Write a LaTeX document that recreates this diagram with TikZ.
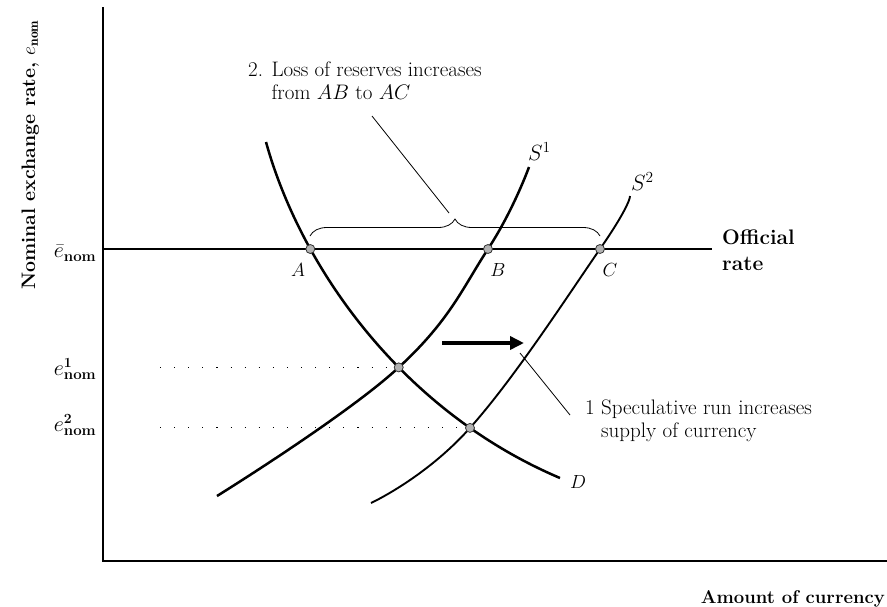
\RequirePackage{fix-cm}
\documentclass[tikz,border=0pt]{standalone}
\usepackage{fontspec}
\usetikzlibrary{arrows.meta,decorations.pathreplacing,intersections}
\newcommand{\enomlab}[2]{{\fontsize{22}{22}\selectfont$#1$}\rlap{\raisebox{8pt}{\fontsize{14}{14}\selectfont\bfseries #2}}\raisebox{-4pt}{\fontsize{15}{15}\selectfont\bfseries nom}}
\begin{document}
\begin{tikzpicture}[x=1pt,y=-1pt,
  curve/.style={line width=2.5pt},
  axis/.style={line width=1.4pt},
  leader/.style={line width=0.8pt},
  ptmark/.style={circle,draw=black!80,fill=black!30,line width=0.8pt,minimum size=9pt,inner sep=0pt},
  lbl/.style={font=\fontsize{21}{23}\selectfont,inner sep=0pt},
  mlbl/.style={font=\fontsize{19}{19}\selectfont,inner sep=0pt},
  slbl/.style={font=\fontsize{22}{22}\selectfont,inner sep=0pt},
  dots/.style={line width=1.1pt,dash pattern=on 1.1pt off 13pt}]
\useasboundingbox (0,0) rectangle (887,606);
% axes
\coordinate (origin) at (103,561);
\coordinate (ytop) at (103,7);
\coordinate (xend) at (887,561);
\draw[axis] (ytop) -- (origin) -- (xend);
% official rate
\coordinate (rateL) at (103,249);
\coordinate (rateR) at (712,249);
\draw[curve,line width=2pt,name path=rate] (rateL) -- (rateR);
% curves
\coordinate (Dtop) at (266,142);
\coordinate (Dend) at (560,478);
\draw[curve,name path=D] (Dtop) .. controls (300,265) and (400,410) .. (Dend);
\draw[curve,name path=S1] plot[smooth,tension=0.7] coordinates {(217,496) (397,369) (488,249) (529,167)};
\draw[curve,line width=1.9pt,name path=S2] plot[smooth,tension=0.7] coordinates {(371,503) (469,429) (600,249) (630,196)};
% intersections
\path[name intersections={of=D and rate,by=A}];
\path[name intersections={of=S1 and rate,by=B}];
\path[name intersections={of=S2 and rate,by=C}];
\path[name intersections={of=D and S1,by=E1}];
\path[name intersections={of=D and S2,by=E2}];
% dotted guides
\coordinate (dx) at (160,0);
\draw[dots] (E1 -| dx) -- (E1);
\draw[dots] (E2 -| dx) -- (E2);
% points
\node[ptmark] (pA) at (A) {};
\node[ptmark] (pB) at (B) {};
\node[ptmark] (pC) at (C) {};
\node[ptmark] (pE1) at (E1) {};
\node[ptmark] (pE2) at (E2) {};
% point labels
\node[mlbl] (lA) at (298,270) {$A$};
\node[mlbl] (lB) at (498,270) {$B$};
\node[mlbl] (lC) at (610,270) {$C$};
\node[mlbl] (lD) at (578,482) {$D$};
\node[slbl,anchor=base west] (lS1) at (528,160) {$S^1$};
\node[slbl,anchor=base west] (lS2) at (631,190) {$S^2$};
% axis value labels
\node[inner sep=0pt,anchor=base east] (ebar) at (96,257) {\enomlab{\bar{e}}{}};
\node[inner sep=0pt,anchor=base east] (e1) at (96,375) {\enomlab{e}{1}};
\node[inner sep=0pt,anchor=base east] (e2) at (96,431) {\enomlab{e}{2}};
% axis titles
\node[font=\fontsize{19.5}{19.5}\selectfont\bfseries,inner sep=0pt,rotate=90,anchor=base west] (ylab) at (35,290) {Nominal exchange rate, $e_{\mathbf{nom}}$};
\node[font=\fontsize{18.5}{18.5}\selectfont\bfseries,inner sep=0pt,anchor=base east] (xlab) at (885,603) {Amount of currency};
\node[font=\fontsize{21}{26}\selectfont\bfseries,inner sep=0pt,anchor=base west,align=left] (off) at (722,270) {Official\\rate};
% brace and note 2
\coordinate (brL) at (310,236);
\coordinate (brR) at (600,236);
\draw[leader,decorate,decoration={brace,amplitude=17pt}] (brL) -- (brR);
\coordinate (brtip) at (449,213);
\node[lbl,anchor=base west,align=left] (t2) at (248,99) {2. Loss of reserves increases\\\phantom{2. }from $AB$ to $AC$};
\coordinate (t2end) at (372,116);
\draw[leader] (t2end) -- (brtip);
% shift arrow and note 1
\coordinate (arS) at (442,343);
\coordinate (arE) at (524,343);
\draw[line width=3.6pt,-{Triangle[length=14pt,width=13pt]}] (arS) -- (arE);
\node[lbl,anchor=base west,align=left] (t1) at (585,437) {1 Speculative run increases\\\phantom{1 }supply of currency};
\coordinate (l1a) at (520,353);
\coordinate (l1b) at (570,415);
\draw[leader] (l1a) -- (l1b);
\end{tikzpicture}
\end{document}
